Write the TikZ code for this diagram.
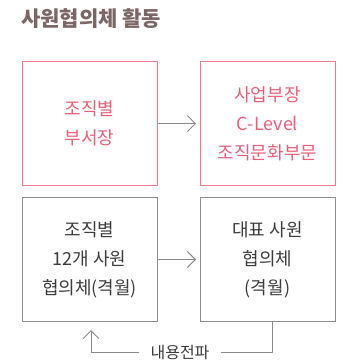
\documentclass[tikz,border=0pt]{standalone}
\usepackage{fontspec}
\setmainfont{Noto Sans CJK KR}
\usetikzlibrary{arrows.meta}
\definecolor{titlec}{HTML}{7B6565}
\definecolor{pinkline}{HTML}{F27C8F}
\definecolor{pinktext}{HTML}{EC5F78}
\definecolor{grayline}{HTML}{8C8C8C}
\definecolor{darktext}{HTML}{3C3C3C}
\definecolor{arrowc}{HTML}{8A8A8A}
\tikzset{
  box/.style={draw, line width=1pt, minimum width=135pt, minimum height=124pt, align=center, inner sep=0pt,
    font=\fontsize{18pt}{29pt}\selectfont},
  pinkbox/.style={box, draw=pinkline, text=pinktext},
  graybox/.style={box, draw=grayline, text=darktext},
  conn/.style={draw=arrowc, line width=0.9pt, -{Straight Barb[length=8pt,width=16pt,line width=0.9pt]}},
}
\begin{document}
\begin{tikzpicture}[x=1pt,y=-1pt]
\useasboundingbox (0,0) rectangle (345,363);
\node[anchor=west, text=titlec, font=\fontsize{21pt}{24pt}\selectfont\bfseries, inner sep=0pt] (title) at (21,19) {사원협의체 활동};
\node[pinkbox] (b1) at (89.5,123.6) {조직별\\부서장};
\node[pinkbox] (b2) at (267.5,123.6) {사업부장\\C-Level\\조직문화부문};
\node[graybox] (b3) at (89.5,259.5) {조직별\\12개 사원\\협의체(격월)};
\node[graybox] (b4) at (267.5,259.5) {대표 사원\\협의체\\(격월)};
\draw[conn, shorten >=3.5pt] (b1) -- (b2);
\draw[conn, shorten >=3.5pt] (b3) -- (b4);
\node[text=darktext, font=\fontsize{16pt}{18pt}\selectfont, inner xsep=11pt, inner ysep=0pt] (lbl) at (180,352.5) {내용전파};
\coordinate (c4) at ([xshift=4.5pt]b4.south);
\draw[draw=arrowc, line width=0.9pt] (c4) |- (lbl.east);
\draw[conn, shorten >=8pt] (lbl.west) -| ([xshift=1.5pt]b3.south);
\end{tikzpicture}
\end{document}
